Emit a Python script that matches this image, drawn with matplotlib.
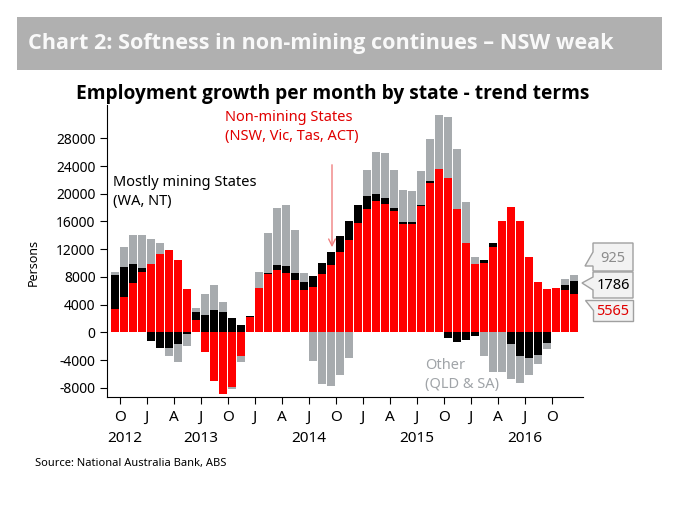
import matplotlib
matplotlib.use("Agg")
import matplotlib.pyplot as plt
import numpy as np
from matplotlib.patches import Rectangle, Polygon

plt.rcParams['font.family'] = ['Noto Sans', 'DejaVu Sans']

# Months Sep 2012 .. Dec 2016
months = ["Sep12","Oct12","Nov12","Dec12",
          "Jan13","Feb13","Mar13","Apr13","May13","Jun13","Jul13","Aug13","Sep13","Oct13","Nov13","Dec13",
          "Jan14","Feb14","Mar14","Apr14","May14","Jun14","Jul14","Aug14","Sep14","Oct14","Nov14","Dec14",
          "Jan15","Feb15","Mar15","Apr15","May15","Jun15","Jul15","Aug15","Sep15","Oct15","Nov15","Dec15",
          "Jan16","Feb16","Mar16","Apr16","May16","Jun16","Jul16","Aug16","Sep16","Oct16","Nov16","Dec16"]

non_mining = [3400, 5100, 7070, 8700,
              9860, 11300, 11930, 10440, 6250, 1780, -2840, -6970, -8900, -7940, -3420, 2260,
              6350, 8420, 9000, 8510, 7500, 6110, 6590, 8470, 9670, 11540, 13280, 15780,
              17850, 18900, 18520, 17510, 15590, 15680, 18280, 21550, 23620, 22320, 17850, 12840,
              9820, 9960, 12360, 16110, 18090, 16110, 10820, 7220, 6200, 6400, 6060, 5565]
mining = [4900, 4400, 2840, 600,
          -1200, -2210, -2210, -1680, -240, 1200, 2550, 3170, 2890, 2120, 1110, 100,
          0, 140, 670, 1060, 1010, 1200, 1590, 1530, 1970, 2410, 2790, 2550,
          1870, 1110, 820, 430, 380, 240, 140, 340, 0, -820, -1440, -1110,
          -530, 430, 580, 0, -1680, -3370, -3750, -3270, -1490, 0, 820, 1786]
other = [400, 2850, 4180, 4760,
         3600, 1640, -1150, -2550, -1680, 580, 3030, 3660, 1540, -290, -910, 0,
         2400, 5770, 8320, 8800, 6210, 1250, -4090, -7460, -7790, -6200, -3660, 0,
         3660, 5960, 6580, 5530, 4620, 4480, 4860, 5960, 7690, 8800, 8560, 5960,
         1000, -3420, -5680, -5680, -5010, -3890, -2410, -1300, -960, 0, 820, 925]

tick_months = ["O","J","A","J","O","J","A","J","O","J","A","J","O","J","A","J","O"]
years = ["2012", "2013", "2014", "2015", "2016"]
yticks = [-8000, -4000, 0, 4000, 8000, 12000, 16000, 20000, 24000, 28000]
last_labels = ["925", "1786", "5565"]

RED = "#ff0000"
BLACK = "#000000"
GREY = "#a7abae"

W, H = 679, 511
fig = plt.figure(figsize=(W/100, H/100), dpi=100)

def fx(px): return px / W
def fy(py): return 1 - py / H

ax = fig.add_axes([fx(106.7), fy(397), fx(583.3) - fx(106.7), fy(105) - fy(397)])

x = np.arange(len(months))
series = [(np.array(non_mining, float), RED), (np.array(mining, float), BLACK), (np.array(other, float), GREY)]
pos_base = np.zeros(len(x))
neg_base = np.zeros(len(x))
for vals, col in series:
    pos = np.where(vals > 0, vals, 0)
    neg = np.where(vals < 0, vals, 0)
    ax.bar(x, pos, bottom=pos_base, width=0.9, color=col, linewidth=0)
    ax.bar(x, neg, bottom=neg_base, width=0.9, color=col, linewidth=0)
    pos_base += pos
    neg_base += neg

ax.set_xlim(-0.944, 52.01)
ax.set_ylim(-9340, 32820)
ax.spines['top'].set_visible(False)
ax.spines['right'].set_visible(False)
ax.set_yticks(yticks)
ax.set_yticklabels([str(v) for v in yticks], fontsize=10)
tick_pos = np.arange(0.5, 0.5 + 3 * len(tick_months), 3)
ax.set_xticks(tick_pos)
ax.set_xticklabels(tick_months, fontsize=11)
ax.tick_params(axis='both', direction='out', length=5, width=0.8, pad=3)
ax.tick_params(axis='x', pad=4)
ax.set_ylabel("Persons", fontsize=9)
ax.yaxis.set_label_coords((40 - 106.7) / 476.6, (397 - 262) / 292)

year_x = [1.09, 9.5, 21.5, 33.5, 45.5]
for yx, yl in zip(year_x, years):
    ax.text(yx, -(438 - 397) / 292, yl, transform=ax.get_xaxis_transform(),
            ha='center', va='center', fontsize=11)

# Title band
fig.patches.append(Rectangle((fx(17), fy(70)), fx(662) - fx(17), fy(17) - fy(70),
                             transform=fig.transFigure, facecolor="#b0b0b0", edgecolor='none'))
fig.text(fx(28), fy(44), "Chart 2: Softness in non-mining continues \u2013 NSW weak",
         color="#f9f9f9", fontsize=15.6, fontweight='bold', family=['Open Sans', 'DejaVu Sans'],
         ha='left', va='center')
fig.text(fx(333), fy(94), "Employment growth per month by state - trend terms",
         color="black", fontsize=13.8, fontweight='bold', family=['Open Sans', 'DejaVu Sans'],
         ha='center', va='center')

# Annotations
fig.text(fx(225), fy(127), "Non-mining States\n(NSW, Vic, Tas, ACT)", color="#e00000",
         fontsize=10.5, ha='left', va='center', linespacing=1.3)
fig.text(fx(113), fy(192), "Mostly mining States\n(WA, NT)", color="black",
         fontsize=10.5, ha='left', va='center', linespacing=1.3)
fig.text(fx(425), fy(375), "Other\n(QLD & SA)", color="#a0a4a8",
         fontsize=10.5, ha='left', va='center', linespacing=1.3)
ax.annotate("", xy=(332, H - 250), xytext=(332, H - 162),
            xycoords='figure pixels', textcoords='figure pixels',
            arrowprops=dict(arrowstyle='->', color="#f08080", lw=1.0, mutation_scale=12))

# Callout boxes
boxes = [
    [(593, 243), (633, 243), (633, 271), (593, 271), (593, 266), (585, 266), (593, 252)],
    [(593, 272), (633, 272), (633, 298), (593, 298), (593, 290), (582, 283), (593, 277)],
    [(585, 300), (633, 300), (633, 321), (593, 321), (593, 310)],
]
centers = [(613, 258), (613, 285), (613, 311)]
colors = ["#8c8c8c", "black", "#e00000"]
for pts, c, lab, col in zip(boxes, centers, last_labels, colors):
    poly = Polygon([(fx(px), fy(py)) for px, py in pts], closed=True, transform=fig.transFigure,
                   facecolor="#f2f2f2", edgecolor="#a0a0a0", lw=1)
    fig.patches.append(poly)
    fig.text(fx(c[0]), fy(c[1]), lab, color=col, fontsize=10.5, ha='center', va='center')

fig.text(fx(35), fy(463), "Source: National Australia Bank, ABS", fontsize=8, ha='left', va='center')

fig.savefig("out.png", dpi=100)
